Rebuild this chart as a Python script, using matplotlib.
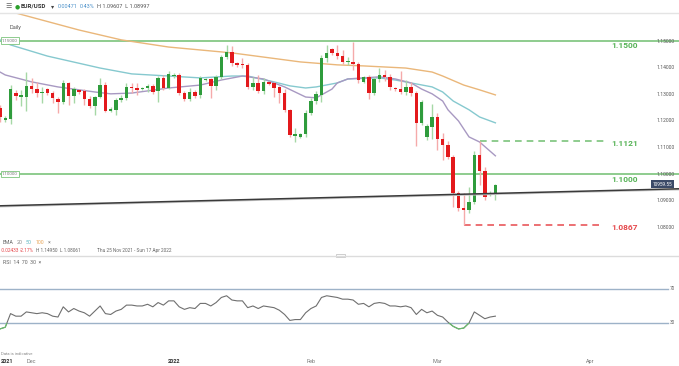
import matplotlib
matplotlib.use("Agg")
import matplotlib.pyplot as plt
from matplotlib.patches import Rectangle
from matplotlib.lines import Line2D
import numpy as np

plt.rcParams['font.family'] = ['Roboto', 'DejaVu Sans']

# ---------------- data ----------------
opens = [1.1247, 1.1202, 1.1206, 1.1303, 1.1290, 1.1288, 1.1330, 1.1318, 1.1303, 1.1318,
         1.1303, 1.1281, 1.1270, 1.1341, 1.1292, 1.1315, 1.1311, 1.1281, 1.1255, 1.1288,
         1.1333, 1.1236, 1.1240, 1.1277, 1.1285, 1.1326, 1.1322, 1.1318, 1.1322, 1.1330,
         1.1311, 1.1360, 1.1322, 1.1367, 1.1371, 1.1303, 1.1281, 1.1307, 1.1296, 1.1352,
         1.1356, 1.1330, 1.1364, 1.1439, 1.1458, 1.1416, 1.1412, 1.1409, 1.1326, 1.1341,
         1.1311, 1.1345, 1.1341, 1.1326, 1.1303, 1.1240, 1.1142, 1.1138, 1.1149, 1.1228,
         1.1273, 1.1296, 1.1435, 1.1469, 1.1454, 1.1442, 1.1418, 1.1420, 1.1412, 1.1345,
         1.1364, 1.1303, 1.1356, 1.1371, 1.1364, 1.1322, 1.1318, 1.1307, 1.1326, 1.1303,
         1.1191, 1.1138, 1.1175, 1.1213, 1.1130, 1.1108, 1.1063, 1.0927, 1.0871, 1.0864,
         1.0894, 1.1070, 1.1010, 1.0920, 1.0927]
highs = [1.1258, 1.1218, 1.1333, 1.1315, 1.1315, 1.1382, 1.1360, 1.1345, 1.1326, 1.1322,
         1.1311, 1.1288, 1.1352, 1.1345, 1.1326, 1.1320, 1.1318, 1.1292, 1.1292, 1.1360,
         1.1345, 1.1250, 1.1285, 1.1296, 1.1341, 1.1341, 1.1341, 1.1326, 1.1337, 1.1337,
         1.1367, 1.1370, 1.1386, 1.1378, 1.1378, 1.1311, 1.1322, 1.1315, 1.1367, 1.1360,
         1.1360, 1.1371, 1.1446, 1.1484, 1.1480, 1.1420, 1.1435, 1.1416, 1.1364, 1.1369,
         1.1360, 1.1349, 1.1345, 1.1330, 1.1318, 1.1244, 1.1172, 1.1153, 1.1240, 1.1285,
         1.1311, 1.1446, 1.1484, 1.1473, 1.1484, 1.1465, 1.1439, 1.1495, 1.1420, 1.1367,
         1.1369, 1.1364, 1.1397, 1.1390, 1.1375, 1.1326, 1.1386, 1.1352, 1.1345, 1.1311,
         1.1277, 1.1187, 1.1262, 1.1228, 1.1153, 1.1123, 1.1070, 1.0935, 1.0927, 1.0950,
         1.1085, 1.1121, 1.1025, 1.0935, 1.0961]
lows = [1.1195, 1.1196, 1.1186, 1.1277, 1.1255, 1.1236, 1.1303, 1.1288, 1.1266, 1.1296,
        1.1266, 1.1228, 1.1262, 1.1258, 1.1266, 1.1300, 1.1258, 1.1248, 1.1221, 1.1285,
        1.1230, 1.1230, 1.1222, 1.1268, 1.1277, 1.1303, 1.1296, 1.1315, 1.1307, 1.1300,
        1.1270, 1.1315, 1.1318, 1.1360, 1.1296, 1.1273, 1.1273, 1.1285, 1.1285, 1.1348,
        1.1285, 1.1315, 1.1356, 1.1430, 1.1405, 1.1401, 1.1397, 1.1318, 1.1315, 1.1303,
        1.1300, 1.1333, 1.1288, 1.1266, 1.1232, 1.1138, 1.1119, 1.1134, 1.1138, 1.1221,
        1.1262, 1.1270, 1.1420, 1.1446, 1.1430, 1.1412, 1.1409, 1.1390, 1.1340, 1.1341,
        1.1281, 1.1296, 1.1345, 1.1349, 1.1315, 1.1311, 1.1300, 1.1296, 1.1292, 1.1104,
        1.1183, 1.1127, 1.1130, 1.1089, 1.1051, 1.1055, 1.0875, 1.0860, 1.0807, 1.0852,
        1.0886, 1.0958, 1.0900, 1.0915, 1.0900]
closes = [1.1213, 1.1209, 1.1318, 1.1292, 1.1294, 1.1330, 1.1318, 1.1303, 1.1307, 1.1303,
          1.1285, 1.1270, 1.1341, 1.1292, 1.1318, 1.1307, 1.1281, 1.1255, 1.1288, 1.1333,
          1.1236, 1.1243, 1.1277, 1.1285, 1.1326, 1.1322, 1.1315, 1.1322, 1.1330, 1.1307,
          1.1360, 1.1322, 1.1375, 1.1371, 1.1303, 1.1281, 1.1307, 1.1292, 1.1360, 1.1356,
          1.1330, 1.1364, 1.1439, 1.1458, 1.1416, 1.1409, 1.1409, 1.1326, 1.1341, 1.1311,
          1.1345, 1.1337, 1.1322, 1.1303, 1.1240, 1.1146, 1.1149, 1.1149, 1.1228, 1.1273,
          1.1300, 1.1435, 1.1454, 1.1454, 1.1442, 1.1420, 1.1422, 1.1412, 1.1352, 1.1364,
          1.1303, 1.1356, 1.1371, 1.1364, 1.1326, 1.1318, 1.1307, 1.1326, 1.1303, 1.1191,
          1.1270, 1.1179, 1.1213, 1.1130, 1.1108, 1.1063, 1.0927, 1.0871, 1.0864, 1.0894,
          1.1070, 1.1010, 1.0912, 1.0927, 1.0958]

ema20_idx = [0, 1, 6, 11, 18, 21, 25, 28, 32, 38, 42, 46, 50, 54, 58, 60, 63, 64, 66, 69,
             72, 75, 78, 80, 82, 84, 85, 87, 89, 91, 94]
ema20_val = [1.1382, 1.1371, 1.1345, 1.1326, 1.1307, 1.1300, 1.1303, 1.1311, 1.1322, 1.1333,
             1.1352, 1.1367, 1.1356, 1.1326, 1.1288, 1.1285, 1.1318, 1.1341, 1.1356, 1.1360,
             1.1364, 1.1356, 1.1341, 1.1318, 1.1300, 1.1273, 1.1240, 1.1198, 1.1138, 1.1119,
             1.1067]
ema50_idx = [0, 2, 9, 19, 25, 32, 38, 44, 47, 52, 55, 58, 60, 64, 66, 72, 75, 78, 82, 84,
             86, 89, 91, 94]
ema50_val = [1.1503, 1.1484, 1.1442, 1.1397, 1.1375, 1.1367, 1.1360, 1.1367, 1.1367, 1.1345,
             1.1330, 1.1322, 1.1326, 1.1341, 1.1356, 1.1360, 1.1352, 1.1341, 1.1326, 1.1307,
             1.1273, 1.1240, 1.1213, 1.1191]
ema100_idx = [0, 3, 15, 23, 32, 44, 57, 64, 69, 77, 82, 84, 88, 91, 94]
ema100_val = [1.1623, 1.1604, 1.1540, 1.1503, 1.1476, 1.1454, 1.1420, 1.1409, 1.1405, 1.1397,
              1.1382, 1.1367, 1.1333, 1.1315, 1.1296]

rsi = [23, 25, 41, 38, 38, 43, 42, 41, 42, 41,
       38, 37, 49, 43, 47, 44, 42, 38, 44, 50,
       41, 40, 44, 46, 51, 51, 50, 50, 52, 49,
       54, 51, 56, 56, 49, 46, 48, 47, 53, 53,
       50, 54, 60, 62, 57, 56, 56, 48, 50, 47,
       50, 49, 48, 45, 40, 33, 34, 34, 42, 47,
       50, 60, 62, 61, 60, 58, 58, 57, 52, 53,
       49, 53, 54, 53, 50, 50, 49, 50, 48, 40,
       46, 42, 44, 39, 37, 31, 26, 23, 24, 30,
       43, 39, 35, 37, 38]

price_ticks = [1.08, 1.09, 1.10, 1.11, 1.12, 1.13, 1.14, 1.15]
solid_levels = [1.1500, 1.1000]
dash_green_level = 1.1121
dash_red_level = 1.0806
level_texts = ["1.1500", "1.1121", "1.1000", "1.0867"]
trend_idx = [0, 128.8]
trend_val = [1.0879, 1.0943]
x_tick_pos = [1.3, 6, 33, 59, 83, 112]
x_tick_lab = ["2021", "Dec", "2022", "Feb", "Mar", "Apr"]

# ---------------- layout ----------------
W, H = 679, 366
fig = plt.figure(figsize=(W / 100, H / 100), dpi=100)
fig.patch.set_facecolor('white')

PX = 5.27
XL = (0, 650 / PX)

GREEN, RED = '#2f9c3c', '#e3191c'
GREEN_W, RED_W = '#a6d8a6', '#f5aaaa'
LEVEL_G = '#7cc47c'


def fx(x):
    return x / W


def fy(y):
    return 1 - y / H


ax = fig.add_axes([0, fy(255), 650 / W, (255 - 13) / H])
ax.set_xlim(*XL)
ax.set_ylim(1.0694, 1.1604)
for s in ax.spines.values():
    s.set_visible(False)
ax.set_xticks([])
ax.yaxis.tick_right()
ax.set_yticks(price_ticks)
ax.set_yticklabels([f"{t:.5f}" for t in price_ticks])
ax.tick_params(axis='y', length=0, pad=5, labelsize=3.6, colors='#555555')

idx = np.arange(len(opens))
o, h, l, c = map(np.array, (opens, highs, lows, closes))
up = c >= o
ax.vlines(idx, l, h, colors=np.where(up, GREEN_W, RED_W), lw=1.0, zorder=3)
ax.bar(idx, np.maximum(np.abs(c - o), 0.00025), bottom=np.minimum(o, c), width=0.66,
       color=np.where(up, GREEN, RED), linewidth=0, zorder=4)

ax.plot(ema100_idx, ema100_val, color='#eab77a', lw=1.0, zorder=2)
ax.plot(ema50_idx, ema50_val, color='#86c9cf', lw=1.0, zorder=2)
ax.plot(ema20_idx, ema20_val, color='#a899c2', lw=1.0, zorder=2)

for lv in solid_levels:
    ax.axhline(lv, xmin=0, xmax=679 / 650, clip_on=False, color=LEVEL_G, lw=1.2, zorder=1)
ax.hlines(dash_green_level, 91, 604 / PX, colors=LEVEL_G, linestyles=(0, (4, 3)), lw=1.2)
ax.hlines(dash_red_level, 88, 604 / PX, colors='#e9585b', linestyles=(0, (4, 3)), lw=1.2)

ax.plot(np.array(trend_idx), np.array(trend_val) - 0.0003, color='#c8c8c8', lw=1.2,
        clip_on=False, zorder=5)
ax.plot(trend_idx, trend_val, color='#3a3a3a', lw=1.1, clip_on=False, zorder=5)

for txt, y, col in zip(level_texts, [45, 143, 179, 227],
                       ['#55b255', '#55b255', '#55b255', '#e5474b']):
    fig.text(fx(611), fy(y), txt, fontsize=6, fontweight='bold', color=col,
             va='center', ha='left')

# left tags
for txt, y in [("1.15000", 40.5), ("1.10000", 174)]:
    fig.text(fx(2), fy(y), txt, fontsize=3.2, color='#777777', va='center', ha='left',
             bbox=dict(boxstyle='square,pad=0.3', fc='white', ec=LEVEL_G, lw=0.6))

# price tag
fig.text(fx(652.5), fy(184), "10959.55", fontsize=3.4, color='white', va='center',
         ha='left', bbox=dict(boxstyle='square,pad=0.35', fc='#3b4a68', ec='none'))

# header
fig.text(fx(5), fy(6.5), "\u2630", fontsize=5, color='#666666', va='center',
         family='DejaVu Sans')
fig.text(fx(14.5), fy(6.5), "\u25cf", fontsize=4.2, color='#2ca02c', va='center',
         family='DejaVu Sans')
fig.text(fx(21), fy(6.5), "EUR/USD", fontsize=4.4, fontweight='bold', color='#333333',
         va='center')
fig.text(fx(50.5), fy(7), "\u25be", fontsize=4.5, color='#444444', va='center',
         family='DejaVu Sans')
fig.text(fx(58), fy(6.5), "0.00471", fontsize=4.0, color='#4a90c9', va='center')
fig.text(fx(80), fy(6.5), "0.43%", fontsize=4.0, color='#4a90c9', va='center')
fig.text(fx(97), fy(6.5), "H 1.09607  L 1.08997", fontsize=4.0, color='#555555',
         va='center')
fig.text(fx(10), fy(27), "Daily", fontsize=4.0, color='#555555', va='center')

# legend rows
fs = 3.8
fs2 = 3.4
fig.text(fx(3), fy(242.5), "EMA", fontsize=fs, color='#666666', va='center')
fig.text(fx(16.5), fy(242.5), "20", fontsize=fs, color='#888888', va='center')
fig.text(fx(26), fy(242.5), "50", fontsize=fs, color='#58b4c0', va='center')
fig.text(fx(35.5), fy(242.5), "100", fontsize=fs, color='#e8a85c', va='center')
fig.text(fx(47.5), fy(242.5), "\u00d7", fontsize=fs, color='#777777', va='center')
fig.text(fx(1), fy(250.5), "-0.02433", fontsize=fs2, color='#e5474b', va='center')
fig.text(fx(20), fy(250.5), "-2.17%", fontsize=fs2, color='#e5474b', va='center')
fig.text(fx(36), fy(250.5), "H 1.14950", fontsize=fs2, color='#666666', va='center')
fig.text(fx(60), fy(250.5), "L 1.08061", fontsize=fs2, color='#666666', va='center')
fig.text(fx(97), fy(250.5), "Thu 25 Nov 2021 - Sun 17 Apr 2022", fontsize=fs2,
         color='#666666', va='center')
fig.text(fx(3), fy(262.5), "RSI  14  70  30  \u00d7", fontsize=fs, color='#666666',
         va='center')

# separators
fig.add_artist(Line2D([0, 1], [fy(13)] * 2, color='#e4e4e4', lw=1.0))
fig.add_artist(Line2D([0, 1], [fy(255.5)] * 2, color='#dcdcdc', lw=1.0))
fig.add_artist(Rectangle((fx(336), fy(257)), 9 / W, 3 / H, fc='white', ec='#bbbbbb', lw=0.5))

# ---------------- RSI pane ----------------
ax2 = fig.add_axes([0, fy(350), 650 / W, (350 - 257) / H])
ax2.set_xlim(*XL)
ax2.set_ylim(-1.8, 107.6)
for s in ax2.spines.values():
    s.set_visible(False)
ax2.set_yticks([])
for lv in (70, 30):
    ax2.axhline(lv, xmin=0, xmax=668 / 650, clip_on=False, color='#9db2c8', lw=1.0)
    fig.text(fx(670), fy(289 if lv == 70 else 323), str(lv), fontsize=3.4,
             color='#666666', va='center')
ax2.plot(idx, rsi, color='#6f6f6f', lw=0.8)
gl, = ax2.plot(idx, rsi, color='#66c06a', lw=0.8)
gl.set_clip_path(Rectangle((XL[0], -10), XL[1] - XL[0], 40, transform=ax2.transData))
ax2.set_xticks(x_tick_pos)
ax2.set_xticklabels(x_tick_lab)
ax2.tick_params(axis='x', length=0, pad=6.5, labelsize=4.0, colors='#777777')
for lab in ax2.get_xticklabels():
    if lab.get_text() in ("2021", "2022"):
        lab.set_color('#333333')
        lab.set_fontweight('bold')

fig.text(fx(1), fy(354), "Data is indicative", fontsize=3.0, color='#888888', va='center')

fig.savefig("out.png", dpi=100)
